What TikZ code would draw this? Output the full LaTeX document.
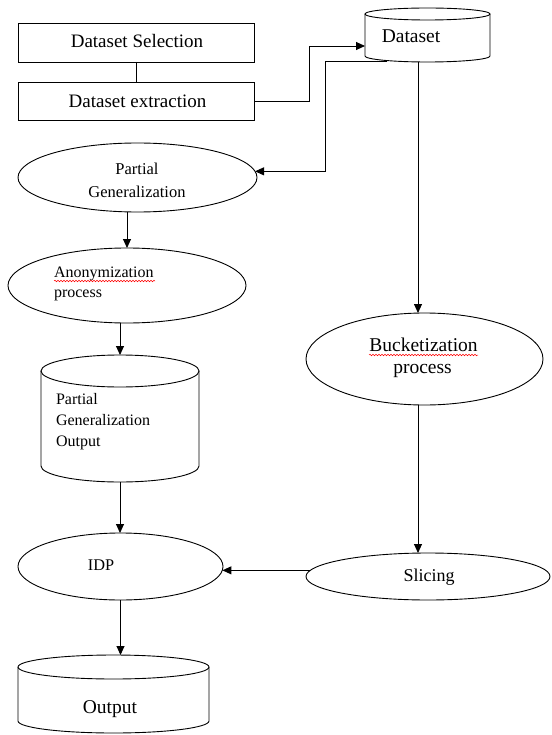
\documentclass[tikz,border=0pt]{standalone}
\usepackage{fontspec}
\setmainfont{Liberation Serif}
\usetikzlibrary{shapes.geometric,arrows.meta,calc,decorations.pathmorphing}
\newcommand\mycyl[6]{% name, x1, x2, ytop, ybottom(lowest), ry
  \node[rectangle, draw=none, inner sep=0pt, outer sep=0pt,
        minimum width={(#3-#2)*1pt}, minimum height={(#5-#4)*1pt}]
        (#1) at ({(#2+#3)/2},{(#4+#5)/2}) {};
  \draw ({(#2+#3)/2},{#4+#6}) ellipse [x radius={(#3-#2)/2*1pt}, y radius=#6pt];
  \draw (#2,{#4+#6}) -- (#2,{#5-#6})
        arc [start angle=180, end angle=360, x radius={(#3-#2)/2*1pt}, y radius=#6pt]
        -- (#3,{#4+#6});
}
\begin{document}
\begin{tikzpicture}[x=1pt,y=-1pt,
  line width=0.9pt,
  arr/.style={-{Triangle[length=9pt,width=8pt]}},
  boxnode/.style={draw, rectangle, inner sep=0pt, outer sep=0pt},
  ell/.style={draw, ellipse, inner sep=0pt, outer sep=0pt},
  lbl/.style={anchor=base, inner sep=0pt, outer sep=0pt},
  lblw/.style={anchor=base west, inner sep=0pt, outer sep=0pt},
  squig/.style={red, line width=0.5pt, decorate,
                decoration={snake, amplitude=0.8pt, segment length=3pt}}]

\useasboundingbox (0,0) rectangle (551,735);

% rectangles
\node[boxnode, minimum width=236pt, minimum height=39pt] (sel) at (136,42.5) {};
\node[boxnode, minimum width=236pt, minimum height=38pt] (ext) at (136,101) {};
\node[lbl, font=\fontsize{19}{23}\selectfont] (selt) at (137,48) {Dataset Selection};
\node[lbl, font=\fontsize{19}{23}\selectfont] (extt) at (137.5,108) {Dataset extraction};

% cylinders
\mycyl{ds}{365}{490}{8}{62}{6}
\mycyl{pgo}{41}{199}{355}{482}{16}
\mycyl{out}{18}{209}{655}{733}{12}
\node[lbl, font=\fontsize{19.5}{23}\selectfont] (dst) at (411,43) {Dataset};
\node[lblw, font=\fontsize{16}{19}\selectfont] (pgot1) at (56,404) {Partial};
\node[lblw, font=\fontsize{16}{19}\selectfont] (pgot2) at (56,425) {Generalization};
\node[lblw, font=\fontsize{16}{19}\selectfont] (pgot3) at (56,446) {Output};
\node[lbl, font=\fontsize{19.5}{23}\selectfont] (outt) at (110,713) {Output};

% ellipses
\node[ell, minimum width=239pt, minimum height=69pt] (pg) at (137.5,177.5) {};
\node[ell, minimum width=238pt, minimum height=75pt] (an) at (127,285.5) {};
\node[ell, minimum width=237pt, minimum height=92pt] (bk) at (424.5,359) {};
\node[ell, minimum width=205pt, minimum height=67pt] (idp) at (120.5,566.5) {};
\node[ell, minimum width=244pt, minimum height=47pt] (sl) at (428,576.5) {};

\node[lbl, font=\fontsize{16.5}{20}\selectfont] (pgt1) at (137,175) {Partial};
\node[lbl, font=\fontsize{16.5}{20}\selectfont] (pgt2) at (137,198) {Generalization};
\node[lblw, font=\fontsize{16}{19}\selectfont] (ant1) at (54,277) {Anonymization};
\node[lblw, font=\fontsize{16}{19}\selectfont] (ant2) at (54,297) {process};
\node[lbl, font=\fontsize{19.5}{23}\selectfont] (bkt1) at (423.5,351) {Bucketization};
\node[lbl, font=\fontsize{19.5}{23}\selectfont] (bkt2) at (422.5,373) {process};
\node[lbl, font=\fontsize{16.3}{20}\selectfont] (idpt) at (101,570) {IDP};
\node[lbl, font=\fontsize{18}{22}\selectfont] (slt) at (429,581) {Slicing};

% spell-check underlines
\draw[squig] (54,281) -- (155,281);
\draw[squig] (369,355) -- (478,355);

% connector points
\coordinate (dsin) at (365,46);
\coordinate (dsout) at (387,61);
\coordinate (dsbend) at (325,61);
\coordinate (dsbot) at (418,62);

% connectors
\draw (sel.south) -- (ext.north);
\draw[arr] (ext.east) -| ($(ext.east)!0.5!(dsin)$) |- (dsin);
\draw[arr] (dsout) -- (dsbend) |- (pg.3);
\draw[arr] (dsbot) -- (dsbot |- bk.north);
\draw[arr] (dsbot |- bk.south) -- (dsbot |- sl.north);
\draw[arr] (pg.south -| an.north) -- (an.north);
\draw[arr] (an.south -| pgo.north) -- (pgo.north);
\draw[arr] (pgo.south) -- (pgo.south |- idp.north);
\draw[arr] (idp.south) -- (idp.south |- out.north);
\draw[arr] (sl.177.4) -- (sl.177.4 -| idp.-2.5);
\end{tikzpicture}
\end{document}
